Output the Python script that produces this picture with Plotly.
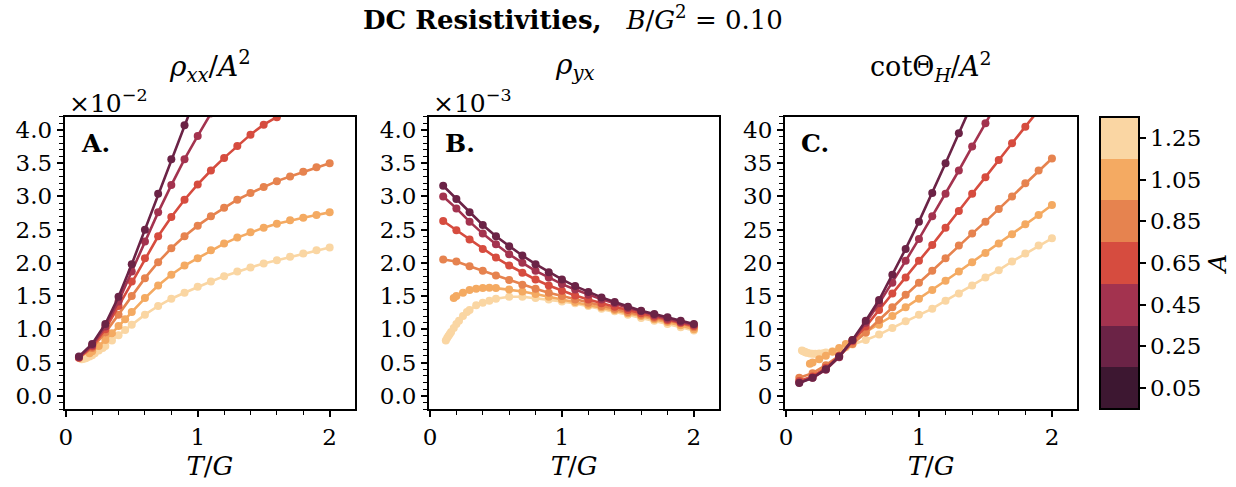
import plotly.graph_objects as go

# ---------------- data ----------------
A_values = [0.05, 0.25, 0.45, 0.65, 0.85, 1.05, 1.25]
A_colors = ['#3d1731', '#6b2346', '#a3334f', '#d64c3f', '#e6834f', '#f4aa62', '#fad6a3']

T_main = [0.1, 0.2, 0.3, 0.4, 0.5, 0.6, 0.7, 0.8, 0.9, 1.0,
          1.1, 1.2, 1.3, 1.4, 1.5, 1.6, 1.7, 1.8, 1.9, 2.0]
T_105 = [0.18, 0.2, 0.25, 0.3, 0.35, 0.4, 0.45, 0.5, 0.6, 0.7, 0.8, 0.9, 1.0,
         1.1, 1.2, 1.3, 1.4, 1.5, 1.6, 1.7, 1.8, 1.9, 2.0]
T_125 = [0.12, 0.13, 0.14, 0.15, 0.16, 0.18, 0.2, 0.22, 0.25, 0.28, 0.3, 0.35, 0.4, 0.45, 0.5,
         0.6, 0.7, 0.8, 0.9, 1.0, 1.1, 1.2, 1.3, 1.4, 1.5, 1.6, 1.7, 1.8, 1.9, 2.0]

# rho_xx / A^2  (x 1e-2)
rxx_025 = [0.59, 0.78, 1.08, 1.49, 1.98, 2.50, 3.04, 3.56, 4.07, 4.58]
rxx_045 = [0.58, 0.76, 1.04, 1.42, 1.87, 2.32, 2.76, 3.17, 3.56, 3.91, 4.25]
rxx_065 = [0.57, 0.74, 1.00, 1.35, 1.72, 2.07, 2.40, 2.69, 2.95, 3.18, 3.39, 3.58, 3.76,
           3.93, 4.08, 4.19, 4.31]
rxx_085 = [0.57, 0.72, 0.95, 1.22, 1.50, 1.77, 2.01, 2.22, 2.40, 2.56, 2.70, 2.83, 2.95,
           3.05, 3.14, 3.23, 3.30, 3.37, 3.44, 3.50]
rxx_105 = [0.64, 0.67, 0.75, 0.84, 0.94, 1.05, 1.15, 1.26, 1.47, 1.66, 1.82, 1.96, 2.07,
           2.19, 2.29, 2.38, 2.46, 2.53, 2.59, 2.64, 2.68, 2.72, 2.76]
rxx_125 = [0.55, 0.555, 0.56, 0.565, 0.575, 0.59, 0.61, 0.64, 0.68, 0.72, 0.75, 0.83, 0.91,
           0.99, 1.07, 1.22, 1.35, 1.46, 1.55, 1.64, 1.72, 1.80, 1.87, 1.93, 1.99, 2.04,
           2.09, 2.14, 2.19, 2.23]

# rho_yx  (x 1e-3)
ryx_025 = [3.16, 2.96, 2.76, 2.57, 2.40, 2.25, 2.11, 1.98, 1.86, 1.75, 1.65, 1.56, 1.48,
           1.41, 1.34, 1.28, 1.23, 1.18, 1.13, 1.08]
ryx_045 = [3.00, 2.82, 2.62, 2.44, 2.28, 2.13, 2.00, 1.88, 1.78, 1.68, 1.60, 1.52, 1.45,
           1.39, 1.32, 1.27, 1.21, 1.16, 1.11, 1.07]
ryx_065 = [2.63, 2.49, 2.35, 2.21, 2.08, 1.96, 1.85, 1.75, 1.66, 1.58, 1.51, 1.45, 1.39,
           1.34, 1.29, 1.24, 1.19, 1.14, 1.10, 1.05]
ryx_085 = [2.05, 2.02, 1.95, 1.88, 1.81, 1.74, 1.67, 1.61, 1.55, 1.50, 1.45, 1.40, 1.35,
           1.31, 1.26, 1.22, 1.17, 1.13, 1.09, 1.03]
ryx_105 = [1.47, 1.50, 1.55, 1.59, 1.61, 1.62, 1.625, 1.62, 1.60, 1.57, 1.53, 1.49, 1.45,
           1.41, 1.37, 1.33, 1.29, 1.24, 1.20, 1.15, 1.11, 1.06, 1.00]
ryx_125 = [0.83, 0.87, 0.90, 0.93, 0.96, 1.02, 1.08, 1.13, 1.20, 1.26, 1.29, 1.36, 1.40,
           1.43, 1.46, 1.49, 1.49, 1.47, 1.45, 1.42, 1.39, 1.35, 1.31, 1.27, 1.22, 1.17,
           1.13, 1.08, 1.03, 0.98]

# cot(Theta_H) / A^2
cot_025 = [1.9, 2.7, 4.0, 5.9, 8.4, 11.3, 14.4, 18.2, 22.1, 26.2, 30.5, 35.0, 39.5, 44.0]
cot_045 = [2.0, 2.7, 3.9, 5.8, 8.3, 11.0, 13.9, 17.0, 20.3, 23.6, 27.0, 30.4, 33.9, 37.5,
           41.0, 44.5]
cot_065 = [2.2, 2.9, 4.2, 6.0, 8.2, 10.4, 12.9, 15.4, 17.8, 20.3, 22.7, 25.3, 27.8, 30.4,
           32.9, 35.5, 38.0, 40.5, 43.0]
cot_085 = [2.7, 3.4, 4.6, 6.0, 7.8, 9.5, 11.4, 13.3, 15.2, 17.0, 18.8, 20.7, 22.6, 24.4,
           26.2, 28.1, 30.0, 32.0, 33.9, 35.7]
cot_105 = [4.8, 5.0, 5.5, 6.0, 6.6, 7.2, 7.8, 8.4, 9.5, 10.7, 12.0, 13.3, 14.6, 15.9,
           17.3, 18.7, 20.1, 21.5, 22.9, 24.3, 25.8, 27.2, 28.7]
cot_125 = [6.8, 6.7, 6.6, 6.5, 6.45, 6.35, 6.3, 6.3, 6.35, 6.4, 6.5, 6.7, 7.0, 7.3, 7.7,
           8.4, 9.2, 10.2, 11.2, 12.2, 13.1, 14.3, 15.4, 16.6, 17.8, 18.9, 20.2, 21.4,
           22.6, 23.7]

colorbar_ticks = ['0.05', '0.25', '0.45', '0.65', '0.85', '1.05', '1.25']

# ---------------- figure ----------------
W, H = 1236, 487
FONT = 'DejaVu Serif'
FS = 23


def px(x):
    return x / W


def py(y):
    return 1 - y / H


fig = go.Figure()

panels = [
    ('x', 'y', [(1.25, T_125, rxx_125), (1.05, T_105, rxx_105), (0.85, T_main, rxx_085),
                (0.65, T_main, rxx_065), (0.45, T_main, rxx_045), (0.25, T_main, rxx_025)]),
    ('x2', 'y2', [(1.25, T_125, ryx_125), (1.05, T_105, ryx_105), (0.85, T_main, ryx_085),
                  (0.65, T_main, ryx_065), (0.45, T_main, ryx_045), (0.25, T_main, ryx_025)]),
    ('x3', 'y3', [(1.25, T_125, cot_125), (1.05, T_105, cot_105), (0.85, T_main, cot_085),
                  (0.65, T_main, cot_065), (0.45, T_main, cot_045), (0.25, T_main, cot_025)]),
]

for xa, ya, series in panels:
    for a, T, vals in series:
        col = A_colors[A_values.index(a)]
        fig.add_trace(go.Scatter(
            x=T[:len(vals)], y=vals, xaxis=xa, yaxis=ya, mode='lines+markers',
            line=dict(color=col, width=2.6), marker=dict(color=col, size=8),
            showlegend=False, hoverinfo='skip'))

# discrete colorbar
cs = []
n = len(A_colors)
for i, c in enumerate(A_colors):
    cs.append([i / n, c])
    cs.append([(i + 1) / n, c])
fig.add_trace(go.Scatter(
    x=[None], y=[None], mode='markers', showlegend=False, hoverinfo='skip',
    marker=dict(color=[0.05], colorscale=cs, cmin=-0.05, cmax=1.35, showscale=True,
                colorbar=dict(
                    x=px(1099), xanchor='left', xpad=0, ypad=0,
                    y=py(409), yanchor='bottom', len=(409 - 116.7) / H, lenmode='fraction',
                    thickness=39, thicknessmode='pixels',
                    outlinewidth=2, outlinecolor='black',
                    tickvals=A_values, ticktext=colorbar_ticks,
                    ticks='outside', ticklen=6, tickwidth=2, tickcolor='black',
                    tickfont=dict(family=FONT, size=FS, color='black'),
                    title=dict(text='<i>A</i>', side='right',
                               font=dict(family=FONT, size=FS + 2, color='black')),
                ))))

domains = [(59, 350.7), (425, 716.7), (782.7, 1076.7)]
yranges = [[-0.2, 4.2], [-0.2, 4.2], [-2, 42]]
ydticks = [0.5, 0.5, 5]
yminor = [0.1, 0.1, 1]
yfmt = ['.1f', '.1f', 'd']

axis_common = dict(showline=True, linewidth=2, linecolor='black', mirror=True,
                   showgrid=False, zeroline=False, ticks='outside', ticklen=6,
                   tickwidth=1.5, tickcolor='black',
                   tickfont=dict(family=FONT, size=FS, color='black'))

for i, (d0, d1) in enumerate(domains):
    sfx = '' if i == 0 else str(i + 1)
    fig.layout['xaxis' + sfx] = dict(
        axis_common, domain=[px(d0), px(d1)], range=[-0.008, 2.192],
        anchor='y' + sfx, tickvals=[0, 1, 2],
        minor=dict(dtick=0.2, tick0=0, ticks='outside', ticklen=3.5, tickwidth=1.2,
                   tickcolor='black'),
        title=dict(text='<i>T</i>/<i>G</i>', font=dict(family=FONT, size=FS + 3, color='black'),
                   standoff=8))
    fig.layout['yaxis' + sfx] = dict(
        axis_common, domain=[py(409), py(116.7)], range=yranges[i],
        anchor='x' + sfx, dtick=ydticks[i], tick0=0, tickformat=yfmt[i],
        minor=dict(dtick=yminor[i], tick0=0, ticks='outside', ticklen=3.5, tickwidth=1.2,
                   tickcolor='black'))

annotations = [
    dict(text='<b>DC Resistivities,</b>   <i>B</i>/<i>G</i><sup>2</sup> = 0.10',
         x=px(570), y=py(18), size=26),
    dict(text='<i>ρ<sub>xx</sub></i>/<i>A</i><sup>2</sup>', x=px(205), y=py(66), size=28),
    dict(text='<i>ρ<sub>yx</sub></i>', x=px(572), y=py(66), size=28),
    dict(text='cotΘ<sub><i>H</i></sub>/<i>A</i><sup>2</sup>', x=px(930), y=py(66), size=27),
]
for a in annotations:
    fig.add_annotation(text=a['text'], x=a['x'], y=a['y'], xref='paper', yref='paper',
                       xanchor='center', yanchor='middle', showarrow=False,
                       font=dict(family=FONT, size=a['size'], color='black'))

for x0, lab, mult in [(59, 'A.', '×10<sup>−2</sup>'), (425, 'B.', '×10<sup>−3</sup>'),
                      (782.7, 'C.', None)]:
    fig.add_annotation(text='<b>' + lab + '</b>', x=px(x0 + 14), y=py(144), xref='paper',
                       yref='paper', xanchor='left', yanchor='middle', showarrow=False,
                       font=dict(family=FONT, size=25, color='black'))
    if mult:
        fig.add_annotation(text=mult, x=px(x0 + 2), y=py(101), xref='paper', yref='paper',
                           xanchor='left', yanchor='middle', showarrow=False,
                           font=dict(family=FONT, size=25, color='black'))

fig.update_layout(width=W, height=H, margin=dict(l=0, r=0, t=0, b=0),
                  plot_bgcolor='white', paper_bgcolor='white',
                  font=dict(family=FONT, size=FS, color='black'))

fig.write_html('out.html')
